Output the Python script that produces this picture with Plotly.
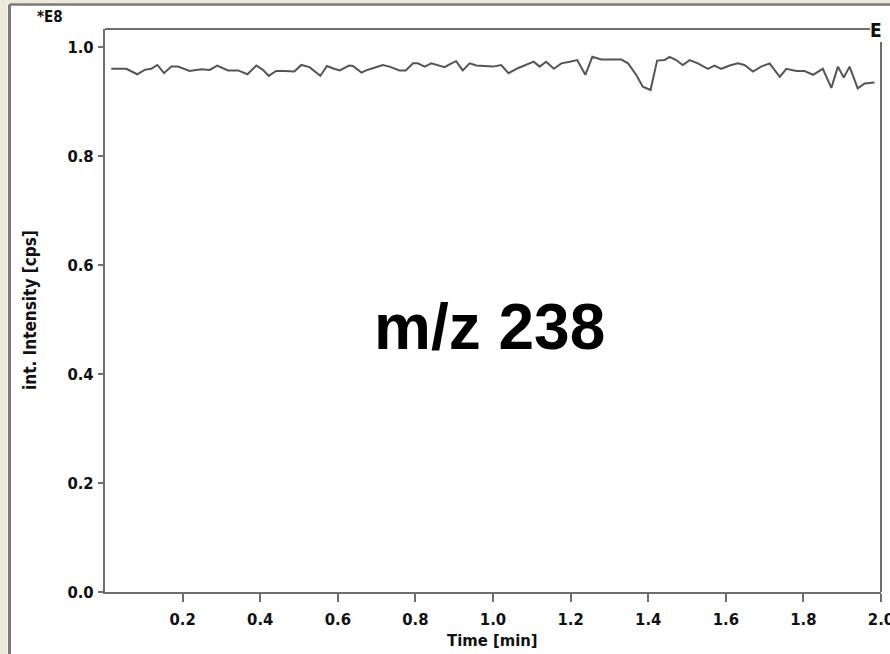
import plotly.graph_objects as go

# ---- data ----
time_min = [0.016, 0.055, 0.083, 0.102, 0.119, 0.135, 0.152, 0.171, 0.188, 0.218,
            0.248, 0.270, 0.289, 0.317, 0.343, 0.367, 0.390, 0.407, 0.422, 0.441,
            0.463, 0.488, 0.506, 0.527, 0.555, 0.572, 0.587, 0.605, 0.629, 0.639,
            0.661, 0.673, 0.690, 0.716, 0.733, 0.759, 0.775, 0.794, 0.806, 0.824,
            0.841, 0.862, 0.875, 0.893, 0.905, 0.922, 0.940, 0.957, 0.983, 1.000,
            1.021, 1.040, 1.064, 1.086, 1.105, 1.120, 1.137, 1.157, 1.176, 1.198,
            1.217, 1.238, 1.256, 1.279, 1.331, 1.348, 1.369, 1.386, 1.406, 1.423,
            1.442, 1.455, 1.472, 1.489, 1.507, 1.528, 1.554, 1.571, 1.588, 1.610,
            1.631, 1.648, 1.670, 1.691, 1.713, 1.739, 1.756, 1.782, 1.803, 1.825,
            1.850, 1.872, 1.889, 1.904, 1.919, 1.940, 1.958, 1.983]
intensity_e8 = [0.960, 0.960, 0.950, 0.958, 0.960, 0.967, 0.952, 0.964, 0.964, 0.956,
                0.959, 0.958, 0.966, 0.957, 0.957, 0.950, 0.966, 0.958, 0.947, 0.956,
                0.956, 0.955, 0.967, 0.963, 0.947, 0.965, 0.961, 0.957, 0.966, 0.965,
                0.953, 0.957, 0.961, 0.967, 0.964, 0.957, 0.957, 0.970, 0.970, 0.964,
                0.970, 0.966, 0.963, 0.970, 0.974, 0.957, 0.970, 0.966, 0.965, 0.964,
                0.967, 0.952, 0.961, 0.967, 0.973, 0.964, 0.973, 0.960, 0.970, 0.973,
                0.976, 0.949, 0.982, 0.977, 0.977, 0.970, 0.949, 0.927, 0.921, 0.975,
                0.976, 0.982, 0.976, 0.967, 0.976, 0.970, 0.960, 0.966, 0.960, 0.966,
                0.970, 0.967, 0.955, 0.964, 0.970, 0.945, 0.960, 0.956, 0.956, 0.949,
                0.960, 0.925, 0.964, 0.944, 0.964, 0.924, 0.933, 0.935]

x_tick_vals = [0.2, 0.4, 0.6, 0.8, 1.0, 1.2, 1.4, 1.6, 1.8, 2.0]
x_tick_text = ["0.2", "0.4", "0.6", "0.8", "1.0", "1.2", "1.4", "1.6", "1.8", "2.0"]
y_tick_vals = [0.0, 0.2, 0.4, 0.6, 0.8, 1.0]
y_tick_text = ["0.0", "0.2", "0.4", "0.6", "0.8", "1.0"]

# ---- layout geometry (pixels) ----
W, H = 890, 654
L, R, T, B = 105, 9, 29, 62
PW, PH = W - L - R, H - T - B


def px(xp):
    return (xp - L) / PW


def py(yp):
    return (H - B - yp) / PH


AXIS = "#6e6e6e"
FONT = "Liberation Sans Narrow, Arial Narrow, DejaVu Sans Condensed, sans-serif"

fig = go.Figure()
fig.add_trace(go.Scatter(x=time_min, y=intensity_e8, mode="lines",
                         line=dict(color="#555555", width=2), showlegend=False,
                         hoverinfo="x+y"))

shapes = [
    # window frame
    dict(type="rect", xref="paper", yref="paper", x0=px(0), x1=px(7.5), y0=py(H), y1=py(0),
         fillcolor="#ece9d8", line=dict(width=0), layer="below"),
    dict(type="rect", xref="paper", yref="paper", x0=px(0), x1=px(W), y0=py(3.5), y1=py(0),
         fillcolor="#ece9d8", line=dict(width=0), layer="below"),
    dict(type="line", xref="paper", yref="paper", x0=px(9.5), x1=px(9.5), y0=py(H), y1=py(4.5),
         line=dict(color="#7a7a7a", width=3)),
    dict(type="line", xref="paper", yref="paper", x0=px(9.5), x1=px(W), y0=py(4.5), y1=py(4.5),
         line=dict(color="#7a7a7a", width=2.5)),
    # plot box top line and broken right line
    dict(type="line", xref="paper", yref="paper", x0=0, x1=px(870), y0=1, y1=1,
         line=dict(color=AXIS, width=2)),
    dict(type="line", xref="paper", yref="paper", x0=1, x1=1, y0=0, y1=py(42),
         line=dict(color=AXIS, width=2)),
]

annotations = [
    dict(text="<b>*E8</b>", xref="paper", yref="paper", x=px(50), y=py(17), showarrow=False,
         xanchor="center", yanchor="middle", font=dict(family=FONT, size=15, color="#111111")),
    dict(text="<b>E</b>", xref="paper", yref="paper", x=px(876), y=py(30), showarrow=False,
         xanchor="center", yanchor="middle",
         font=dict(family=FONT, size=19, color="#111111")),
    dict(text="<b>int. Intensity [cps]</b>", xref="paper", yref="paper", x=px(30), y=py(310),
         showarrow=False, textangle=-90, xanchor="center", yanchor="middle",
         font=dict(family=FONT, size=17, color="#111111")),
    dict(text="<b>Time [min]</b>", xref="paper", yref="paper", x=px(492), y=py(640),
         showarrow=False, xanchor="center", yanchor="middle",
         font=dict(family=FONT, size=16.5, color="#111111")),
    dict(text="<b>m/z 238</b>", xref="paper", yref="paper", x=px(489.5), y=py(327),
         showarrow=False, xanchor="center", yanchor="middle",
         font=dict(family="Liberation Sans, Arial, sans-serif", size=64, color="#000000")),
]

fig.update_layout(
    width=W, height=H,
    margin=dict(l=L, r=R, t=T, b=B, pad=0),
    paper_bgcolor="white", plot_bgcolor="white",
    shapes=shapes, annotations=annotations,
    xaxis=dict(range=[0, 2.0], tickvals=x_tick_vals, ticktext=[f"<b>{t}</b>" for t in x_tick_text],
               ticks="outside", ticklen=8, tickwidth=2, tickcolor=AXIS,
               showline=True, linecolor=AXIS, linewidth=2, showgrid=False, zeroline=False,
               tickfont=dict(family=FONT, size=16.5, color="#111111"), ticklabelstandoff=3,
               ticklabeloverflow="allow", automargin=False, fixedrange=True),
    yaxis=dict(range=[0, 1.033], tickvals=y_tick_vals, ticktext=[f"<b>{t}</b>" for t in y_tick_text],
               ticks="outside", ticklen=5, tickwidth=2, tickcolor=AXIS,
               showline=True, linecolor=AXIS, linewidth=2, showgrid=False, zeroline=False,
               tickfont=dict(family=FONT, size=16.5, color="#111111"), ticklabelstandoff=1,
               ticklabeloverflow="allow", automargin=False, fixedrange=True),
)

fig.write_html("out.html", config={"displayModeBar": False},
               post_script="document.body.style.margin='0';document.body.style.overflow='hidden';")
